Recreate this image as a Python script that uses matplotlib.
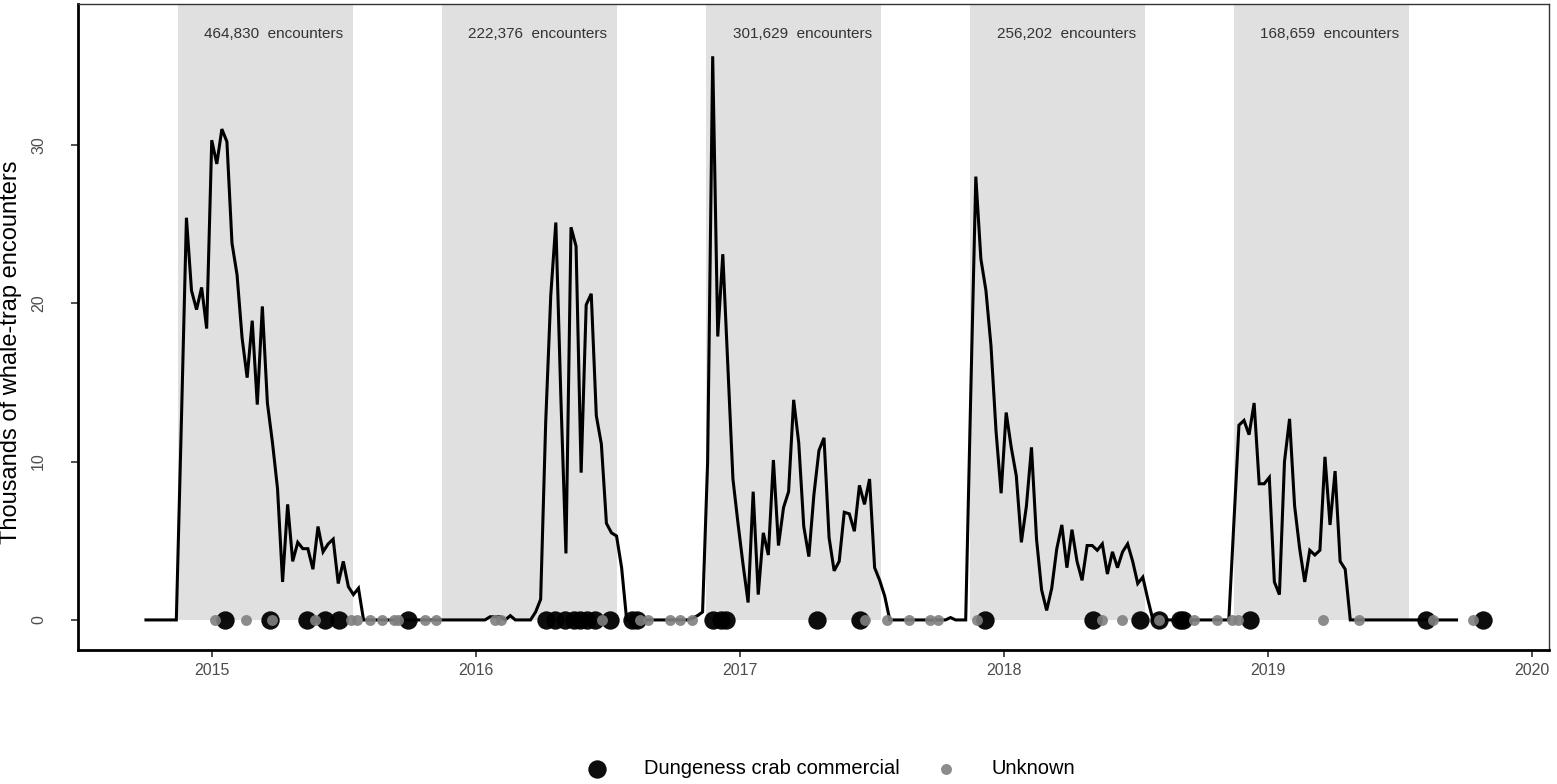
import matplotlib
matplotlib.use("Agg")
import matplotlib.pyplot as plt
import matplotlib.dates as mdates
import numpy as np
import pandas as pd

plt.rcParams["font.family"] = ["Liberation Sans", "DejaVu Sans"]

# weekly whale-trap encounters (thousands), first week starts 2014-10-02
first_week = "2014-10-02"
weekly_k = [
    # off season 2014
    0, 0, 0, 0, 0, 0, 0,
    # 2014-15 season
    12.5, 25.4, 20.8, 19.6, 21.0, 18.4, 30.3, 28.8, 31.0, 30.2, 23.8, 21.8,
    17.8, 15.3, 18.9, 13.6, 19.8, 13.7, 11.2, 8.3, 2.4, 7.3, 3.7, 4.9,
    4.5, 4.5, 3.2, 5.9, 4.3, 4.8, 5.1, 2.3, 3.7, 2.1, 1.6, 2.0,
    # off season 2015
    0, 0, 0, 0, 0, 0, 0, 0, 0, 0, 0, 0, 0, 0, 0, 0, 0, 0, 0, 0, 0, 0, 0, 0, 0,
    0.2, 0.2, 0.2, 0, 0.27, 0, 0, 0, 0,
    # 2015-16 season (delayed opening)
    0.5, 1.3, 12.5, 20.5, 25.1, 14.0, 4.2, 24.8, 23.6, 9.3, 19.9, 20.6,
    12.9, 11.1, 6.1, 5.5, 5.3, 3.3,
    # off season 2016
    0, 0, 0, 0, 0, 0, 0, 0, 0, 0, 0, 0, 0, 0.1, 0.27, 0.5, 10.0,
    # 2016-17 season
    35.6, 17.9, 23.1, 16.0, 8.9, 6.1, 3.5, 1.1, 8.1, 1.6, 5.5, 4.1,
    10.1, 4.7, 7.1, 8.1, 13.9, 11.2, 5.9, 4.0, 7.9, 10.7, 11.5, 5.2,
    3.1, 3.7, 6.8, 6.7, 5.6, 8.5, 7.3, 8.9, 3.3, 2.5, 1.5,
    # off season 2017
    0, 0, 0, 0, 0, 0, 0, 0, 0, 0, 0, 0, 0.15, 0, 0, 0,
    # 2017-18 season
    14.3, 28.0, 22.8, 20.8, 17.3, 11.9, 8.0, 13.1, 10.9, 9.1, 4.9, 7.2,
    10.9, 5.1, 1.9, 0.6, 2.0, 4.5, 6.0, 3.3, 5.7, 3.7, 2.5, 4.7,
    4.7, 4.4, 4.8, 2.9, 4.3, 3.3, 4.3, 4.8, 3.7, 2.3, 2.7, 1.3,
    # off season 2018
    0, 0, 0, 0, 0, 0, 0, 0, 0, 0, 0, 0, 0, 0, 0, 0,
    # 2018-19 season
    6.2, 12.3, 12.6, 11.7, 13.7, 8.6, 8.6, 9.0, 2.4, 1.6, 10.0, 12.7,
    7.2, 4.5, 2.4, 4.4, 4.1, 4.4, 10.3, 6.0, 9.4, 3.7, 3.2,
    # off season 2019
    0, 0, 0, 0, 0, 0, 0, 0, 0, 0, 0, 0, 0, 0, 0, 0, 0, 0, 0, 0, 0, 0,
]

# fishing seasons and total encounters per season
season_start = ["2014-11-15", "2015-11-15", "2016-11-15", "2017-11-15", "2018-11-15"]
season_end = ["2015-07-15", "2016-07-15", "2017-07-15", "2018-07-15", "2019-07-15"]
season_total = [464830, 222376, 301629, 256202, 168659]

# entanglement records by fishery
crab_dates = [
    "2015-01-20", "2015-03-22", "2015-05-13", "2015-06-07", "2015-06-26", "2015-09-29",
    "2016-04-07", "2016-04-20", "2016-05-04", "2016-05-16", "2016-05-25", "2016-06-03",
    "2016-06-14", "2016-07-05", "2016-08-04", "2016-08-11",
    "2016-11-25", "2016-12-05", "2016-12-13", "2017-04-17", "2017-06-16", "2017-12-06",
    "2018-05-04", "2018-07-08", "2018-08-03", "2018-09-01", "2018-09-06", "2018-12-07",
    "2019-08-08", "2019-10-25",
]
unknown_dates = [
    "2015-01-06", "2015-02-17", "2015-03-26", "2015-05-24", "2015-07-12", "2015-07-21",
    "2015-08-08", "2015-08-25", "2015-09-10", "2015-09-15", "2015-10-23", "2015-11-07",
    "2016-01-28", "2016-02-05", "2016-06-24", "2016-08-16", "2016-08-27", "2016-09-26",
    "2016-10-10", "2016-10-26", "2017-06-23", "2017-07-23", "2017-08-23", "2017-09-21",
    "2017-10-02", "2017-11-24", "2018-05-16", "2018-06-13", "2018-08-03", "2018-09-21",
    "2018-10-22", "2018-11-13", "2018-11-21", "2019-03-18", "2019-05-07", "2019-08-17",
    "2019-10-12",
]

weeks = pd.date_range(first_week, periods=len(weekly_k), freq="7D")
crab = pd.to_datetime(crab_dates)
unknown = pd.to_datetime(unknown_dates)

fig = plt.figure(figsize=(15.57, 7.84), dpi=100)
ax = fig.add_axes([0.0501, 0.1709, 0.9448, 0.824])

ymin, ymax = -1.9, 38.9
for s, e, n in zip(season_start, season_end, season_total):
    s, e = pd.Timestamp(s), pd.Timestamp(e)
    ax.fill_between([s, e], 0, ymax, color="#e0e0e0", lw=0, zorder=0)
    ax.text(s + pd.Timedelta(days=133), 37.0, "{:,}  encounters".format(n),
            ha="center", va="center", fontsize=11, color="#333333")

ax.plot(weeks, weekly_k, color="black", lw=2.2, zorder=2, solid_joinstyle="miter")
ax.scatter(crab, np.zeros(len(crab)), s=175, color="black", alpha=0.95, lw=0, zorder=3,
           label="Dungeness crab commercial")
ax.scatter(unknown, np.zeros(len(unknown)), s=62, color="#808080", alpha=0.9, lw=0, zorder=4,
           label="Unknown")

ax.set_xlim(pd.Timestamp("2014-06-30"), pd.Timestamp("2020-01-25"))
ax.set_ylim(ymin, ymax)
ax.xaxis.set_major_locator(mdates.YearLocator())
ax.xaxis.set_major_formatter(mdates.DateFormatter("%Y"))
ax.set_yticks([0, 10, 20, 30])
ax.tick_params(axis="x", length=5, width=1.2, colors="#333333", labelsize=11.5,
               labelcolor="#4d4d4d", pad=4)
ax.tick_params(axis="y", length=5, width=1.2, colors="#333333", labelsize=11.5,
               labelcolor="#4d4d4d", pad=18)
for lab in ax.get_yticklabels():
    lab.set_rotation(90)
    lab.set_va("center")
ax.set_ylabel("Thousands of whale-trap encounters", fontsize=17, color="black")
ax.yaxis.set_label_coords(-0.038, 0.461)

for side in ["top", "right"]:
    ax.spines[side].set_color("#333333")
    ax.spines[side].set_linewidth(1.0)
for side in ["left", "bottom"]:
    ax.spines[side].set_color("black")
    ax.spines[side].set_linewidth(2.0)

fig.legend(loc="center left", bbox_to_anchor=(569 / 1557, 1 - 769 / 784), ncol=2,
           frameon=False, fontsize=14.5, handlelength=1.0, handletextpad=1.8,
           columnspacing=1.8, borderpad=0.4)

fig.savefig("out.png", dpi=100)
